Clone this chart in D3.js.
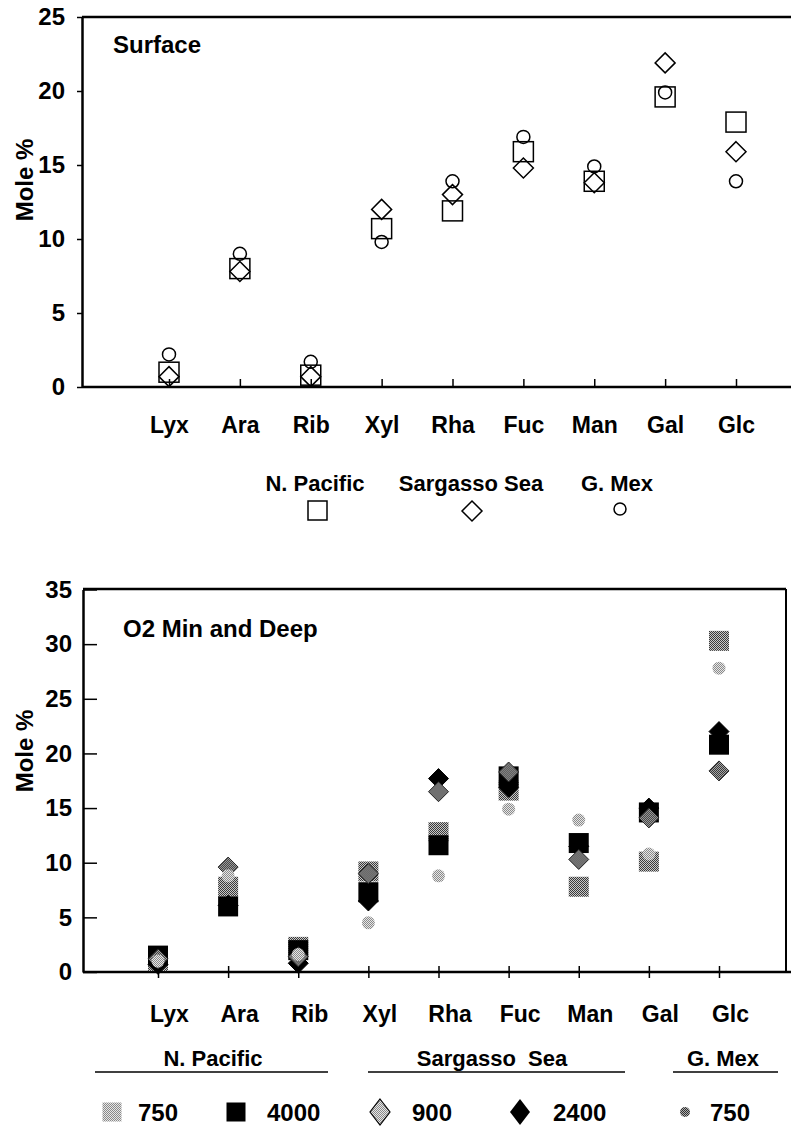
<!DOCTYPE html>
<html>
<head>
<meta charset="utf-8">
<script src="https://cdn.jsdelivr.net/npm/d3@7"></script>
<style>
body { margin: 0; background: #fff; }
svg { display: block; font-family: "Liberation Sans", Arial, Helvetica, sans-serif; font-weight: bold; }
</style>
</head>
<body>
<script>
// categories (sugars)
var sugars = ["Lyx", "Ara", "Rib", "Xyl", "Rha", "Fuc", "Man", "Gal", "Glc"];

// surface samples, mole %
var surfNPacific = [1.0, 8.0, 0.8, 10.7, 11.9, 15.9, 13.9, 19.6, 17.9];
var surfSargasso = [0.7, 7.8, 0.7, 12.0, 13.0, 14.8, 13.8, 21.9, 15.9];
var surfGMex     = [2.2, 9.0, 1.7, 9.8, 13.9, 16.9, 14.9, 19.9, 13.9];

// O2 min and deep samples, mole %
var deepNP750   = [1.0, 7.8, 2.3, 9.2, 12.8, 16.6, 7.8, 10.1, 30.3];
var deepNP4000  = [1.5, 6.0, 2.0, 7.3, 11.6, 17.9, 11.8, 14.6, 20.8];
var deepSS2400  = [0.7, 6.1, 0.8, 6.5, 17.7, 16.9, 11.5, 15.0, 22.0];
var deepSS900   = [1.2, 9.6, 1.4, 9.0, 16.5, 18.3, 10.3, 14.1, 18.4];
var deepGM750   = [1.0, 8.8, 1.6, 4.5, 8.8, 14.9, 13.9, 10.8, 27.8];

var surfTicks = [0, 5, 10, 15, 20, 25];
var deepTicks = [0, 5, 10, 15, 20, 25, 30, 35];

var surfLegend = ["N. Pacific", "Sargasso Sea", "G. Mex"];
var deepGroups = ["N. Pacific", "Sargasso  Sea", "G. Mex"];
var deepLegend = ["750", "4000", "900", "2400", "750"];

var svg = d3.select("body").append("svg")
    .attr("width", 791)
    .attr("height", 1128);

var defs = svg.append("defs");
function stipple(id, bg, fg) {
    var p = defs.append("pattern").attr("id", id)
        .attr("patternUnits", "userSpaceOnUse")
        .attr("width", 2).attr("height", 2);
    p.append("rect").attr("width", 2).attr("height", 2).attr("fill", bg);
    p.append("rect").attr("width", 1).attr("height", 1).attr("fill", fg);
    p.append("rect").attr("x", 1).attr("y", 1).attr("width", 1).attr("height", 1).attr("fill", fg);
}
stipple("stipNP", "#c8c8c8", "#3a3a3a");
stipple("stipSS", "#b0b0b0", "#303030");
stipple("stipGM", "#e6e6e6", "#8a8a8a");

function diamond(h, w) {
    return "M0," + (-h) + "L" + w + ",0L0," + h + "L" + (-w) + ",0Z";
}

function styleAxis(g, size) {
    g.attr("font-family", null).attr("font-size", null);
    g.selectAll("text").attr("fill", "#000").style("font-size", size + "px");
    g.selectAll("line").attr("stroke", "#000").attr("stroke-width", 1.5);
}

//////////////////////////// Surface ////////////////////////////
var xTop = d3.scalePoint().domain(sugars).range([169, 736]);
var yTop = d3.scaleLinear().domain([0, 25]).range([387, 17]);

// frame lines
svg.append("line").attr("x1", 82).attr("x2", 791).attr("y1", 17).attr("y2", 17)
    .attr("stroke", "#000").attr("stroke-width", 2.5);
svg.append("line").attr("x1", 82).attr("x2", 791).attr("y1", 387).attr("y2", 387)
    .attr("stroke", "#000").attr("stroke-width", 2.5);

var gyTop = svg.append("g").attr("transform", "translate(82,0)")
    .call(d3.axisLeft(yTop).tickValues(surfTicks).tickSize(5).tickSizeOuter(0).tickPadding(12));
styleAxis(gyTop, 24);
gyTop.select(".domain").attr("stroke-width", 2.5);

var gxTop = svg.append("g").attr("transform", "translate(0,387)")
    .call(d3.axisBottom(xTop).tickSize(-8).tickSizeOuter(0).tickPadding(30));
styleAxis(gxTop, 23);
gxTop.select(".domain").remove();

svg.append("text").attr("transform", "translate(33,180) rotate(-90)")
    .attr("text-anchor", "middle").style("font-size", "24px").text("Mole %");
svg.append("text").attr("x", 113).attr("y", 53).style("font-size", "24px").text("Surface");

var surf = svg.append("g").attr("fill", "none").attr("stroke", "#000").attr("stroke-width", 1.5);
surf.selectAll(".np").data(surfNPacific).enter().append("rect")
    .attr("x", function(d, i) { return xTop(sugars[i]) - 10; })
    .attr("y", function(d) { return yTop(d) - 10; })
    .attr("width", 20).attr("height", 20);
surf.selectAll(".ss").data(surfSargasso).enter().append("path")
    .attr("d", diamond(10, 10))
    .attr("transform", function(d, i) { return "translate(" + xTop(sugars[i]) + "," + yTop(d) + ")"; });
surf.selectAll(".gm").data(surfGMex).enter().append("circle")
    .attr("cx", function(d, i) { return xTop(sugars[i]); })
    .attr("cy", function(d) { return yTop(d); })
    .attr("r", 6.5);

// surface legend
var legX = [315, 471, 617];
svg.selectAll(".slab").data(surfLegend).enter().append("text")
    .attr("x", function(d, i) { return legX[i]; })
    .attr("y", 491).attr("text-anchor", "middle")
    .style("font-size", "22px").text(function(d) { return d; });
var sl = svg.append("g").attr("fill", "none").attr("stroke", "#000").attr("stroke-width", 1.5);
sl.append("rect").attr("x", 308).attr("y", 501).attr("width", 19).attr("height", 19);
sl.append("path").attr("d", diamond(10, 10)).attr("transform", "translate(472,511)");
sl.append("circle").attr("cx", 620).attr("cy", 509).attr("r", 6);

//////////////////////////// O2 Min and Deep ////////////////////////////
var xBot = d3.scalePoint().domain(sugars).range([158, 719]);
var yBot = d3.scaleLinear().domain([0, 35]).range([972, 589.5]);

svg.append("line").attr("x1", 83).attr("x2", 786).attr("y1", 589).attr("y2", 589)
    .attr("stroke", "#000").attr("stroke-width", 2.5);
svg.append("line").attr("x1", 786).attr("x2", 786).attr("y1", 589).attr("y2", 972)
    .attr("stroke", "#000").attr("stroke-width", 2);
svg.append("line").attr("x1", 83).attr("x2", 791).attr("y1", 972).attr("y2", 972)
    .attr("stroke", "#000").attr("stroke-width", 2.5);

var gyBot = svg.append("g").attr("transform", "translate(83,0)")
    .call(d3.axisLeft(yBot).tickValues(deepTicks).tickSize(-14).tickSizeOuter(0).tickPadding(11));
styleAxis(gyBot, 24);
gyBot.select(".domain").attr("stroke-width", 2.5);

var gxBot = svg.append("g").attr("transform", "translate(0,972)")
    .call(d3.axisBottom(xBot).tickSize(6).tickSizeOuter(0).tickPadding(28));
styleAxis(gxBot, 23);
gxBot.select(".domain").remove();
gxBot.selectAll(".tick line").attr("y1", -6).attr("y2", 6);
gxBot.selectAll(".tick text").attr("dx", 11);

svg.append("text").attr("transform", "translate(33,751) rotate(-90)")
    .attr("text-anchor", "middle").style("font-size", "24px").text("Mole %");
svg.append("text").attr("x", 123).attr("y", 637).style("font-size", "24px").text("O2 Min and Deep");

var deep = svg.append("g");
function squares(data, fill) {
    deep.append("g").selectAll("rect").data(data).enter().append("rect")
        .attr("x", function(d, i) { return xBot(sugars[i]) - 10; })
        .attr("y", function(d) { return yBot(d) - 10; })
        .attr("width", 20).attr("height", 20)
        .attr("fill", fill);
}
function diamonds(data, fill, stroke) {
    deep.append("g").selectAll("path").data(data).enter().append("path")
        .attr("d", diamond(10, 10))
        .attr("transform", function(d, i) { return "translate(" + xBot(sugars[i]) + "," + yBot(d) + ")"; })
        .attr("fill", fill)
        .attr("stroke", stroke).attr("stroke-width", 1);
}
squares(deepNP750, "url(#stipNP)");
squares(deepNP4000, "#000");
diamonds(deepSS2400, "#000", "#000");
diamonds(deepSS900, "url(#stipSS)", "#222");
deep.append("g").selectAll("circle").data(deepGM750).enter().append("circle")
    .attr("cx", function(d, i) { return xBot(sugars[i]); })
    .attr("cy", function(d) { return yBot(d); })
    .attr("r", 6.5)
    .attr("fill", "url(#stipGM)");

// deep legend: group headers with underlines
var groupX = [213, 492, 723];
var lineX = [[95, 328], [368, 625], [673, 778]];
svg.selectAll(".ghead").data(deepGroups).enter().append("text")
    .attr("x", function(d, i) { return groupX[i]; })
    .attr("y", 1066).attr("text-anchor", "middle")
    .attr("xml:space", "preserve")
    .style("white-space", "pre")
    .style("font-size", "22px")
    .text(function(d) { return d; });
svg.selectAll(".gline").data(lineX).enter().append("line")
    .attr("x1", function(d) { return d[0]; }).attr("x2", function(d) { return d[1]; })
    .attr("y1", 1072).attr("y2", 1072)
    .attr("stroke", "#000").attr("stroke-width", 1.5);

var itemX = [112, 236, 380, 520, 685];
var textX = [138, 267, 412, 553, 710];
var ly = 1112;
svg.append("rect").attr("x", itemX[0] - 9.5).attr("y", ly - 9.5).attr("width", 19).attr("height", 19)
    .attr("fill", "url(#stipGM)");
svg.append("rect").attr("x", itemX[1] - 9.5).attr("y", ly - 9.5).attr("width", 19).attr("height", 19)
    .attr("fill", "#000");
svg.append("path").attr("d", diamond(13, 10)).attr("transform", "translate(" + itemX[2] + "," + ly + ")")
    .attr("fill", "url(#stipGM)").attr("stroke", "#000").attr("stroke-width", 1.2);
svg.append("path").attr("d", diamond(13, 10)).attr("transform", "translate(" + itemX[3] + "," + ly + ")")
    .attr("fill", "#000");
svg.append("circle").attr("cx", itemX[4]).attr("cy", ly).attr("r", 5)
    .attr("fill", "url(#stipSS)");
svg.selectAll(".litem").data(deepLegend).enter().append("text")
    .attr("x", function(d, i) { return textX[i]; })
    .attr("y", ly + 9)
    .style("font-size", "24px")
    .text(function(d) { return d; });
</script>
</body>
</html>
